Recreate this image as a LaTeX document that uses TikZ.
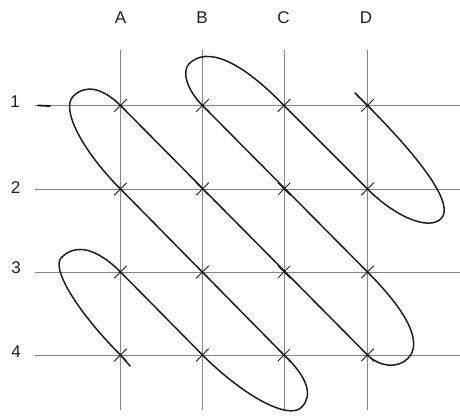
\documentclass[tikz,border=0pt]{standalone}
\usepackage{fontspec}
\setmainfont{Liberation Sans}
\usetikzlibrary{calc,shapes.misc}
\definecolor{ink}{HTML}{1E1E1E}
\definecolor{gridc}{HTML}{858585}
% #1 prefix, #2 start point, #3 motion angle, #4 lateral angle, #5 s of end point, #6 s of tip, #7 t of tip
\newcommand\mkcap[7]{%
  \coordinate (#1a) at ($(#2)+(#3:{0.55*(#6)})$);
  \coordinate (#1b) at ($(#2)+(#3:{#6})+(#4:{0.45*(#7)})$);
  \coordinate (#1t) at ($(#2)+(#3:{#6})+(#4:{#7})$);
  \coordinate (#1c) at ($(#2)+(#3:{#6})+(#4:{(#7)+0.65*(58.7-(#7))})$);
  \coordinate (#1d) at ($(#2)+(#3:{(#5)+0.65*((#6)-(#5))})+(#4:58.7)$);
}
\begin{document}
\begin{tikzpicture}[x=1pt,y=-1pt,
  gridline/.style={draw=gridc,line width=0.7pt},
  zig/.style={draw=ink,line width=1.5pt,line join=round,line cap=round},
  xm/.style={draw=ink,cross out,line width=1pt,minimum size=11.5pt,inner sep=0pt},
  lab/.style={text=ink,font=\fontsize{17}{20}\selectfont,inner sep=0pt}]
\useasboundingbox (0,0) rectangle (460,415);
% grid points
\foreach \c/\x in {A/120.5,B/202.5,C/284,D/367.5}{
  \foreach \r/\y in {1/105.5,2/189,3/272,4/355}{
    \coordinate (\c\r) at (\x,\y);
  }
  \draw[gridline] (\x,50) -- (\x,410);
}
\foreach \y in {105.5,189,272,355}{
  \draw[gridline] (35,\y) -- (460,\y);
}
\draw[draw=ink,line width=1.8pt,line cap=round] (38,105.5) -- (50,106);
% labels
\node[lab] (lA) at (120.5,17.5) {A};
\node[lab] (lB) at (202,17.5) {B};
\node[lab] (lC) at (283.5,17.5) {C};
\node[lab] (lD) at (366,17.5) {D};
\node[lab] (l1) at (15,102) {1};
\node[lab] (l2) at (15.5,188) {2};
\node[lab] (l3) at (16,268) {3};
\node[lab] (l4) at (16,352) {4};
% caps
\mkcap{ka}{A4}{225}{315}{58.7}{110.7}{27}
\mkcap{kb}{B4}{45}{315}{58.7}{107}{33}
\mkcap{kc}{A2}{225}{315}{58.7}{99}{32}
\mkcap{kd}{D4}{45}{315}{-58.7}{31}{26}
\mkcap{ke}{B1}{225}{315}{-58.7}{39}{20}
\mkcap{kf}{D2}{45}{315}{-58.7}{73}{31}
\coordinate (s0) at (130,366);
\coordinate (e0) at (355,93);
\draw[zig] (s0) -- (A4)
  .. controls (kaa) and (kab) .. (kat) .. controls (kac) and (kad) .. (A3)
  -- (B4)
  .. controls (kba) and (kbb) .. (kbt) .. controls (kbc) and (kbd) .. (C4)
  -- (A2)
  .. controls (kca) and (kcb) .. (kct) .. controls (kcc) and (kcd) .. (A1)
  -- (D4)
  .. controls (kda) and (kdb) .. (kdt) .. controls (kdc) and (kdd) .. (D3)
  -- (B1)
  .. controls (kea) and (keb) .. (ket) .. controls (kec) and (ked) .. (C1)
  -- (D2)
  .. controls (kfa) and (kfb) .. (kft) .. controls (kfc) and (kfd) .. (D1)
  -- (e0);
% crosses
\foreach \c in {A,B,C,D}{
  \foreach \r in {1,2,3,4}{
    \node[xm] (x\c\r) at (\c\r) {};
  }
}
\end{tikzpicture}
\end{document}
